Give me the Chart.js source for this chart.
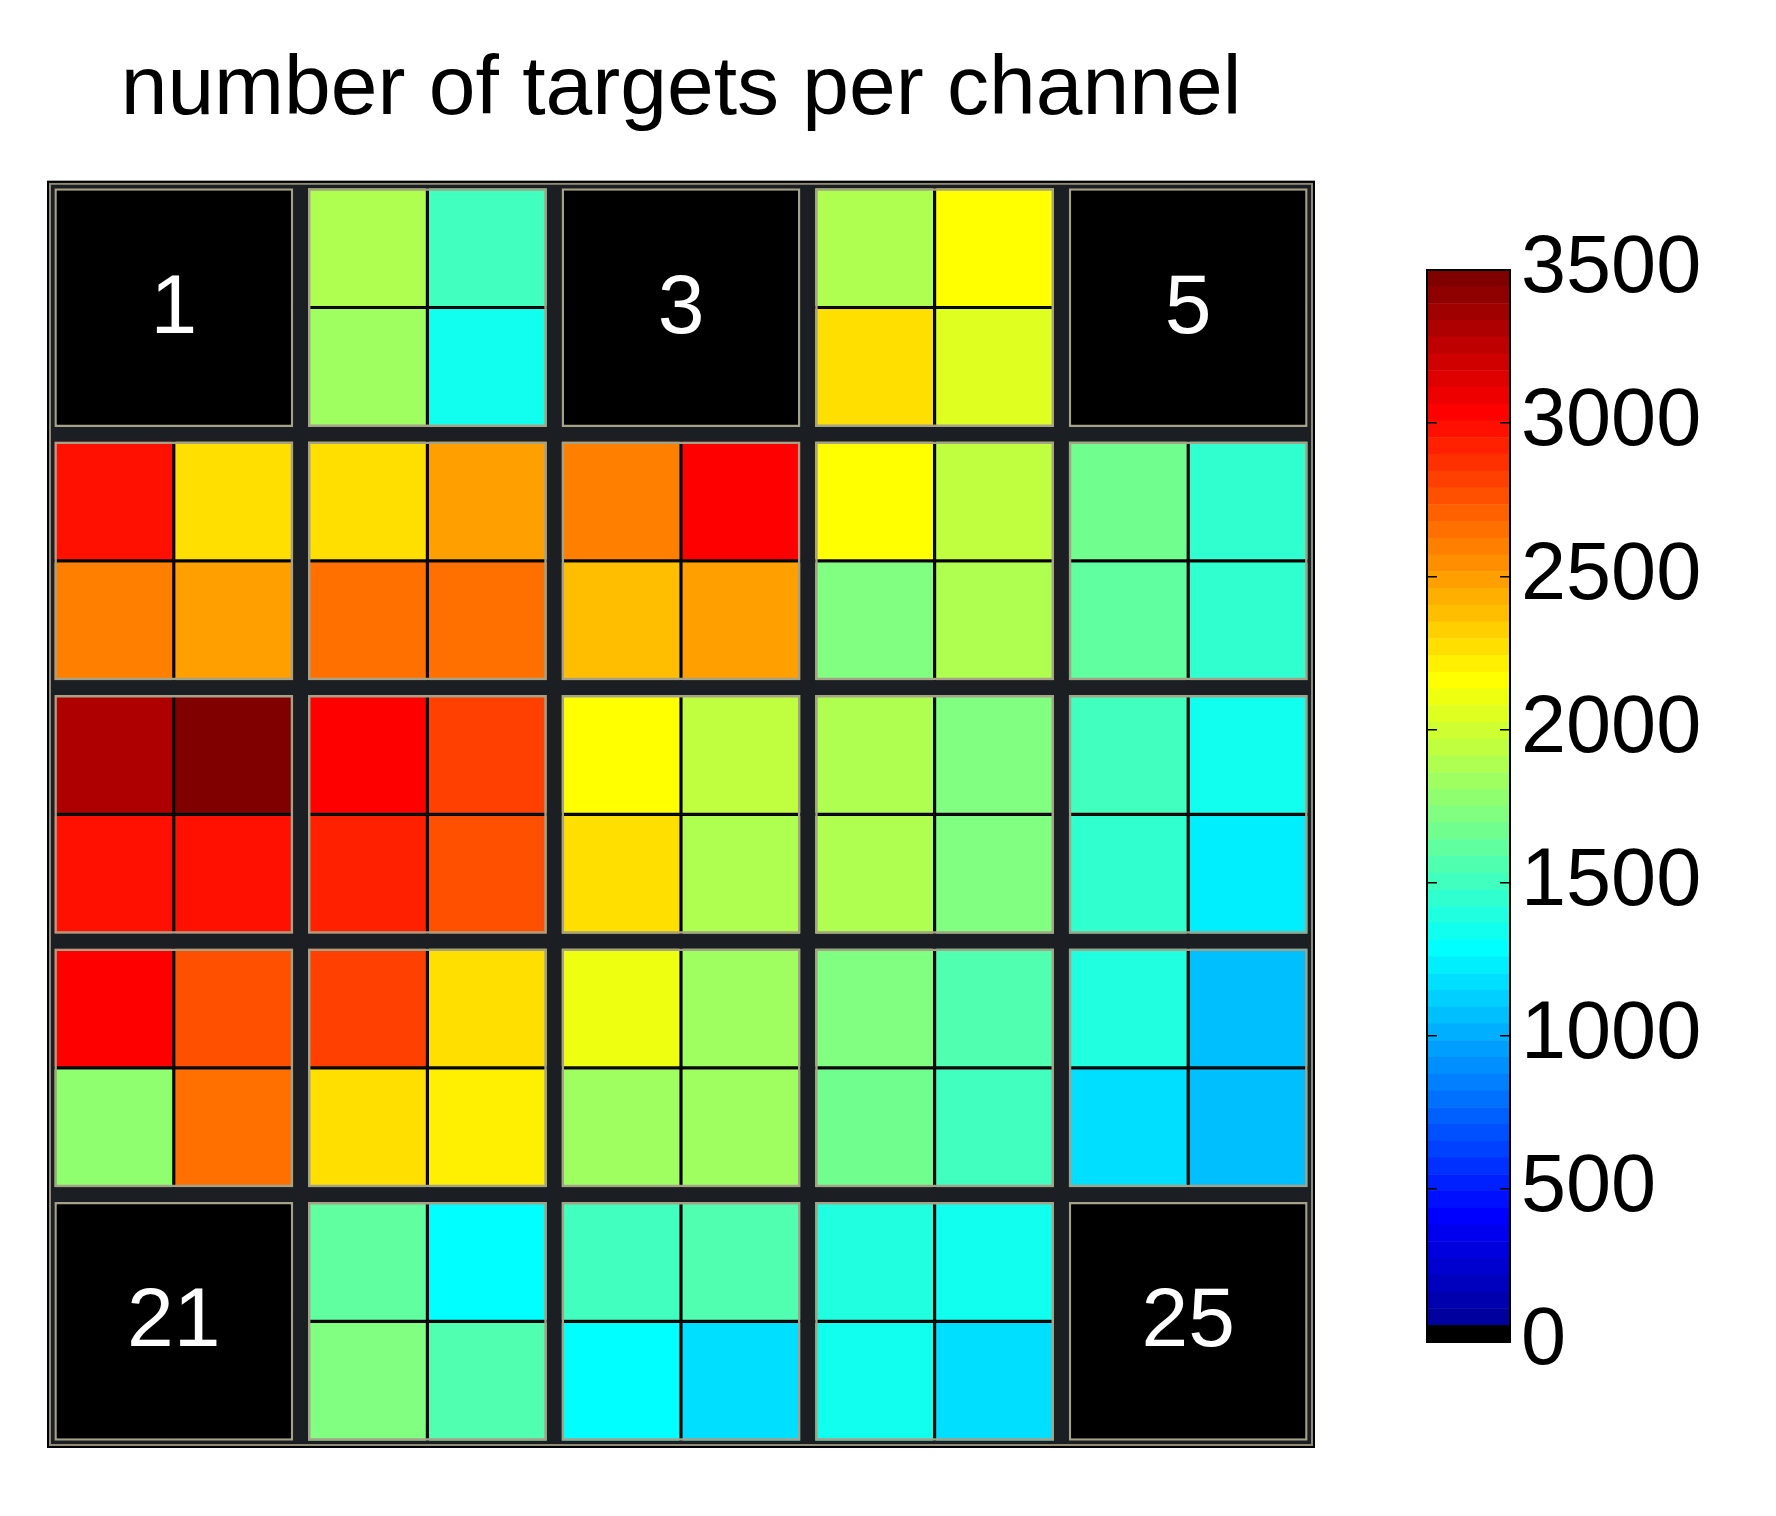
<!DOCTYPE html>
<html>
<head>
<meta charset="utf-8">
<title>number of targets per channel</title>
<script src="https://cdn.jsdelivr.net/npm/chart.js@4.4.1/dist/chart.umd.min.js"></script>
<style>
    html, body { margin: 0; padding: 0; background: #fff; }
    body { width: 1776px; height: 1516px; position: relative; overflow: hidden; }
    #gridBox { position: absolute; left: 0; top: 0; width: 1362px; height: 1516px; }
    #barBox { position: absolute; left: 1400px; top: 0; width: 376px; height: 1516px; }
</style>
</head>
<body>
<div id="gridBox"><canvas id="gridChart"></canvas></div>
<div id="barBox"><canvas id="colorBar"></canvas></div>
<script>
// 5 x 5 modules, each split in 2 x 2 channels
const moduleCols = ['1', '2', '3', '4', '5'];

// targets per channel, one array per channel row (top to bottom), 0 = dead module
const chRow1  = [0, 0, 1890, 1500, 0, 0, 1890, 2160, 0, 0];
const chRow2  = [0, 0, 1830, 1340, 0, 0, 2270, 2050, 0, 0];
const chRow3  = [2980, 2270, 2270, 2490, 2600, 3040, 2160, 1940, 1670, 1450];
const chRow4  = [2600, 2490, 2650, 2650, 2380, 2490, 1720, 1890, 1610, 1450];
const chRow5  = [3310, 3470, 3040, 2820, 2160, 1940, 1890, 1720, 1500, 1340];
const chRow6  = [2980, 2980, 2930, 2760, 2270, 1890, 1890, 1720, 1450, 1230];
const chRow7  = [3040, 2760, 2820, 2270, 2110, 1830, 1720, 1560, 1390, 1070];
const chRow8  = [1780, 2650, 2270, 2210, 1830, 1830, 1670, 1500, 1180, 1070];
const chRow9  = [0, 0, 1610, 1290, 1500, 1560, 1390, 1340, 0, 0];
const chRow10 = [0, 0, 1720, 1560, 1290, 1180, 1340, 1180, 0, 0];
const channelRows = [chRow1, chRow2, chRow3, chRow4, chRow5, chRow6, chRow7, chRow8, chRow9, chRow10];

// colour scale
const colorTicks = [0, 500, 1000, 1500, 2000, 2500, 3000, 3500];
const cMax = 3500;
const nColors = 64;

const FONT = "'Liberation Sans', Arial, Helvetica, sans-serif";
const GAP = 0.058;   // part of a module pitch left dark between modules

// matlab jet(64), first entry replaced by black
function jet(i) {
    const k = i + 1;
    if (k === 1) return 'rgb(0,0,0)';
    const cl = v => Math.round(255 * Math.max(0, Math.min(1, v)));
    const r = cl(Math.min((k - 24) / 16, (72 - k) / 16));
    const g = cl(Math.min((k - 8) / 16, (56 - k) / 16));
    const b = cl(Math.min((k + 8) / 16, (40 - k) / 16));
    return `rgb(${r},${g},${b})`;
}

function valueColor(v) {
    const i = Math.min(nColors - 1, Math.floor(v / cMax * nColors));
    return jet(i);
}

function isDead(r, c) {
    return [channelRows[2 * r][2 * c], channelRows[2 * r][2 * c + 1],
            channelRows[2 * r + 1][2 * c], channelRows[2 * r + 1][2 * c + 1]].every(v => v === 0);
}

// channel cells
const datasets = [];
channelRows.forEach((row, k) => {
    const modRow = Math.floor(k / 2);
    const lower = k % 2 === 1;
    const y0 = modRow + (lower ? 0.5 : GAP / 2);
    const y1 = modRow + (lower ? 1 - GAP / 2 : 0.5);
    ['L', 'R'].forEach((side, s) => {
        const vals = moduleCols.map((_, c) => row[2 * c + s]);
        datasets.push({
            label: 'row ' + (k + 1) + side,
            stack: side,
            data: vals.map(() => [y0, y1]),
            backgroundColor: vals.map(valueColor),
            borderColor: '#000',
            borderWidth: {
                top: lower ? 1.6 : 0,
                bottom: lower ? 0 : 1.6,
                left: s ? 1.6 : 0,
                right: s ? 0 : 1.6
            },
            borderSkipped: false,
            categoryPercentage: 1 - GAP,
            barPercentage: 1,
            order: 1
        });
    });
});

// khaki rim around each module (dead modules filled black)
for (let r = 0; r < 5; r++) {
    datasets.push({
        label: 'module row ' + (r + 1),
        grouped: false,
        data: moduleCols.map(() => [r + GAP / 2, r + 1 - GAP / 2]),
        backgroundColor: moduleCols.map((_, c) => isDead(r, c) ? '#000' : 'rgba(0,0,0,0)'),
        borderColor: '#a5a287',
        borderWidth: 2.5,
        borderSkipped: false,
        categoryPercentage: 1 - GAP,
        barPercentage: 1,
        order: 0
    });
}

const gridFrame = {
    id: 'gridFrame',
    beforeDatasetsDraw(chart) {
        const {ctx, chartArea: a} = chart;
        ctx.save();
        ctx.fillStyle = '#1b1e23';
        ctx.fillRect(a.left, a.top, a.width, a.height);
        ctx.restore();
    },
    afterDatasetsDraw(chart) {
        const {ctx, chartArea: a, scales} = chart;
        ctx.save();
        ctx.strokeStyle = '#8f8c73';
        ctx.lineWidth = 2;
        ctx.strokeRect(a.left + 3, a.top + 3, a.width - 6, a.height - 6);
        ctx.strokeStyle = '#000';
        ctx.lineWidth = 2;
        ctx.strokeRect(a.left + 1, a.top + 1, a.width - 2, a.height - 2);

        // dead modules get their number
        ctx.fillStyle = '#fff';
        ctx.font = '84px ' + FONT;
        ctx.textAlign = 'center';
        ctx.textBaseline = 'middle';
        for (let r = 0; r < 5; r++) {
            moduleCols.forEach((_, c) => {
                if (isDead(r, c)) {
                    const x = scales.x.getPixelForValue(c);
                    const y = scales.y.getPixelForValue(r + 0.5);
                    ctx.fillText(String(r * 5 + c + 1), x, y + 2);
                }
            });
        }
        ctx.restore();
    }
};

new Chart(document.getElementById('gridChart'), {
    type: 'bar',
    data: { labels: moduleCols, datasets: datasets },
    options: {
        responsive: true,
        maintainAspectRatio: false,
        animation: false,
        events: [],
        layout: { padding: { left: 47, right: 47, top: 0, bottom: 68 } },
        scales: {
            x: { display: false },
            y: { display: false, stacked: false, reverse: true, min: 0, max: 5 }
        },
        plugins: {
            legend: { display: false },
            tooltip: { enabled: false },
            title: {
                display: true,
                text: 'number of targets per channel',
                color: '#000',
                font: { family: FONT, size: 84, weight: 'normal' },
                padding: { top: 40, bottom: 40 }
            }
        }
    },
    plugins: [gridFrame]
});

// Colour bar
const barFrame = {
    id: 'barFrame',
    afterDraw(chart) {
        const {ctx, chartArea: a} = chart;
        ctx.save();
        ctx.strokeStyle = '#000';
        ctx.lineWidth = 2;
        ctx.strokeRect(a.left, a.top, a.width, a.height);
        ctx.restore();
    }
};

const levels = Array.from({ length: nColors }, (_, i) => i);

new Chart(document.getElementById('colorBar'), {
    type: 'bar',
    data: {
        labels: [''],
        datasets: levels.map(i => ({
            label: 'level ' + i,
            data: [cMax / nColors],
            backgroundColor: jet(i),
            borderWidth: 0,
            categoryPercentage: 1,
            barPercentage: 1
        }))
    },
    options: {
        responsive: true,
        maintainAspectRatio: false,
        animation: false,
        events: [],
        layout: { padding: { left: 27, right: 0, top: 270, bottom: 174 } },
        scales: {
            x: { display: false, stacked: true },
            y: {
                stacked: true,
                position: 'right',
                min: 0,
                max: cMax,
                afterBuildTicks: s => { s.ticks = colorTicks.map(v => ({ value: v })); },
                afterFit: s => { s.width = 266; },
                ticks: {
                    color: '#000',
                    padding: 11,
                    font: { family: FONT, size: 81 },
                    callback: v => String(v)
                },
                grid: { z: 1, drawTicks: false, color: '#000', lineWidth: 1.5 },
                border: { display: false, dash: [10, 63, 10, 400] }
            }
        },
        plugins: {
            legend: { display: false },
            tooltip: { enabled: false }
        }
    },
    plugins: [barFrame]
});
</script>
</body>
</html>
